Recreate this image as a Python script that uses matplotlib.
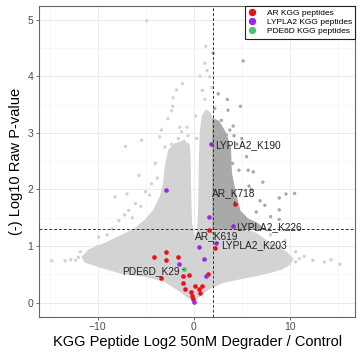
# volcano plot of KGG peptides (degrader vs control)
import numpy as np
import matplotlib
matplotlib.use('Agg')
import matplotlib.pyplot as plt
from matplotlib.lines import Line2D

plt.rcParams['font.family'] = ['Liberation Sans', 'DejaVu Sans']

# outline of the dense grey cloud of all peptides (log2 ratio, -log10 p)
cloud_x = [0.0, 0.7, 1.5, 3.0, 5.0, 6.5, 8.0, 9.2, 10.0, 10.3, 9.7, 8.6, 7.5, 6.5, 5.0, 3.5, 2.0,
           2.0, 1.7, 1.3, 0.9, 0.7, 0.6, 0.55, 0.45, 0.15, -0.25, -0.35, -0.4, -0.5, -1.2, -2.0,
           -2.6, -2.95, -3.13, -3.47, -4.17, -5.03, -6.07, -7.47, -9.2, -10.9, -11.6, -11.3,
           -9.9, -7.47, -4.69, -2.95, -1.56]
cloud_y = [0.02, 0.13, 0.24, 0.36, 0.43, 0.48, 0.54, 0.60, 0.68, 0.78, 0.88, 1.0, 1.1, 1.22,
           1.32, 1.32, 1.3, 3.2, 3.35, 3.4, 3.3, 3.0, 2.5, 1.8, 1.35, 1.1, 1.4, 2.0, 2.6, 2.8,
           2.85, 2.8, 2.69, 2.4, 2.1, 1.87, 1.63, 1.46, 1.31, 1.19, 1.05, 0.93, 0.81, 0.72,
           0.64, 0.52, 0.46, 0.37, 0.22]

# dense part of the cloud past both cut-offs (drawn darker)
dark_x = [2.0, 2.0, 2.6, 3.3, 3.8, 3.9, 4.3, 4.8, 5.6, 6.6, 7.3]
dark_y = [1.3, 3.25, 3.2, 3.0, 2.75, 2.3, 1.95, 1.62, 1.48, 1.4, 1.3]

# scattered peptides outside the dense cloud
other_x = [-4.9, 1.25, 2.02, 5.14, 1.15, 1.39, 0.65, 1.67, -1.18, -1.8, 2.55, 3.5, 1.15, -2.15,
           -2.2, -2.3, 2.19, 3.57, 4.86, 2.88, 4.1, 3.75, 3.4, -3.37, -3.54, -1.46, -1.28, -0.6,
           -7.1, -5.45, -4.0, -5.7, -5.03, -6.95, -8.2, -6.07, -6.77, -9.9, -10.07, -14.8,
           -13.4, -12.3, -12.8, 5.5, 6.2, 7.2, 9.6, 10.5, 8.9, 8.9, 6.9, 7.4, 5.76, 5.66, 4.7,
           4.03, 8.0, 8.9, 7.05, 4.5, 4.2, 12.4, 13.6, 15.2, 11.0, 10.6, 14.3, 0.9, 1.9, -2.7,
           -3.0, -2.3, -1.6, -1.0, -0.7, 0.3, 0.2, -9.0, -8.5, -7.8, -7.2, -6.4, -5.5, -4.6,
           -4.4, -3.8, -11.8, -12.0, 9.0, 9.5, 8.0, 10.6, 11.5, 5.0, 6.0, 6.5]
other_y = [4.98, 4.53, 4.41, 4.27, 4.23, 4.10, 4.0, 3.99, 3.87, 3.76, 3.69, 3.59, 3.59, 3.62,
           3.47, 3.39, 3.43, 3.40, 3.47, 3.22, 3.12, 3.05, 2.96, 3.05, 2.93, 3.1, 3.02, 2.95,
           2.76, 2.87, 2.46, 2.25, 1.96, 1.92, 1.87, 1.75, 1.63, 1.16, 0.99, 0.74,
           0.74, 0.75, 0.76, 2.58, 2.31, 2.13, 1.92, 1.93, 1.85, 1.64, 1.8, 1.72, 2.06, 2.34, 2.34,
           2.46, 1.52, 1.47, 1.31, 2.8, 2.95, 0.75, 0.72, 0.68, 0.78, 0.72, 0.76, 3.75, 3.8, 3.25,
           2.75, 2.8, 2.9, 2.85, 3.1, 2.9, 3.3, 1.2, 1.3, 1.45, 1.55, 1.5, 1.7, 1.9,
           2.1, 2.2, 0.9, 0.8, 1.0, 1.1, 1.2, 0.9, 0.82, 2.9, 2.0, 1.6]

# highlighted peptides
ar_x = [4.27, 1.60, 2.19, 1.52, -2.92, -4.17, -2.92, -1.63, -0.49, -1.11, -3.37, -1.11, -0.94,
        0.10, 0.90, 0.56, 0.63, -0.24, -0.14, -0.07]
ar_y = [1.75, 1.28, 0.97, 0.50, 0.89, 0.80, 0.75, 0.81, 0.49, 0.47, 0.44, 0.34, 0.24,
        0.29, 0.29, 0.24, 0.17, 0.18, 0.11, 0.06]
lyp_x = [1.81, -2.85, 1.60, 4.10, 2.36, 0.56, 1.08, -1.56, 1.32, 0.03]
lyp_y = [2.80, 1.99, 1.51, 1.36, 1.06, 0.99, 0.78, 0.68, 0.47, 0.02]
pde_x = [-1.0]
pde_y = [0.59]

# labels: text, point it belongs to, text position
lab_text = ['LYPLA2_K190', 'AR_K718', 'LYPLA2_K226', 'AR_K619', 'LYPLA2_K203', 'PDE6D_K29']
lab_px = [1.81, 4.27, 4.10, 1.60, 2.36, -1.0]
lab_py = [2.80, 1.75, 1.36, 1.28, 1.06, 0.59]
lab_tx = [2.25, 1.9, 4.45, 0.1, 2.85, -1.45]
lab_ty = [2.78, 1.93, 1.34, 1.18, 1.01, 0.56]
lab_ha = ['left', 'left', 'left', 'left', 'left', 'right']

light = '#d3d3d3'
dark = '#a9a9a9'

fig = plt.figure(figsize=(3.62, 3.56), dpi=100)
ax = fig.add_axes([0.108, 0.110, 0.873, 0.873])

# grid like theme_bw
ax.set_xticks([-15, -5, 5, 15], minor=True)
ax.set_yticks(np.arange(0.5, 5.0, 1.0), minor=True)
ax.grid(True, which='major', color='#ebebeb', lw=0.7, zorder=0)
ax.grid(True, which='minor', color='#f4f4f4', lw=0.5, zorder=0)
ax.set_axisbelow(True)

# grey cloud
ax.fill(cloud_x, cloud_y, color=light, ec=light, lw=1, zorder=1)
ax.fill(dark_x, dark_y, color=dark, ec=dark, lw=1, zorder=1.5)
ox = np.array(other_x)
oy = np.array(other_y)
ocol = np.where((ox > 2) & (oy > 1.3), dark, light)
ax.scatter(ox, oy, s=6, c=ocol, lw=0, zorder=2)

# cut-off lines
ax.axvline(2, color='#333333', lw=0.7, ls=(0, (3, 2)), zorder=3)
ax.axhline(-np.log10(0.05), color='#333333', lw=0.7, ls=(0, (3, 2)), zorder=3)

ax.scatter(ar_x, ar_y, s=11, color='#e8101a', lw=0, zorder=4)
ax.scatter(lyp_x, lyp_y, s=11, color='#9b27e8', lw=0, zorder=4)
ax.scatter(pde_x, pde_y, s=11, color='#4cc46e', lw=0, zorder=4)

for t, px, py, tx, ty, ha in zip(lab_text, lab_px, lab_py, lab_tx, lab_ty, lab_ha):
    ax.annotate(t, xy=(px, py), xytext=(tx, ty), ha=ha, va='center', fontsize=7.3,
                color='#222222', zorder=5,
                arrowprops=dict(arrowstyle='-', color='#333333', lw=0.5, shrinkA=0, shrinkB=2))

ax.set_xlim(-16.1, 16.8)
ax.set_ylim(-0.25, 5.24)
ax.set_xticks([-10, 0, 10])
ax.set_yticks([0, 1, 2, 3, 4, 5])
ax.tick_params(which='major', length=2.5, width=0.6, color='#555555', labelsize=7.5,
               labelcolor='#4d4d4d', pad=1.5)
ax.tick_params(which='minor', length=0)
for s in ax.spines.values():
    s.set_color('#666666')
    s.set_linewidth(0.8)

ax.set_xlabel('KGG Peptide Log2 50nM Degrader / Control', fontsize=10.5, labelpad=2)
ax.set_ylabel('(-) Log10 Raw P-value', fontsize=10.5, labelpad=3)

handles = [Line2D([], [], ls='none', marker='o', ms=4.3, color=c)
           for c in ['#e8101a', '#9b27e8', '#4cc46e']]
leg = ax.legend(handles, ['AR KGG peptides', 'LYPLA2 KGG peptides', 'PDE6D KGG peptides'],
                loc='upper right', bbox_to_anchor=(1.0, 1.0), borderaxespad=0, fontsize=6.0,
                handlelength=1.0, handletextpad=1.2, borderpad=0.4, labelspacing=0.15,
                fancybox=False, framealpha=1)
leg.get_frame().set_edgecolor('#222222')
leg.get_frame().set_linewidth(0.8)
leg.set_zorder(6)

plt.savefig('out.png', dpi=100)
